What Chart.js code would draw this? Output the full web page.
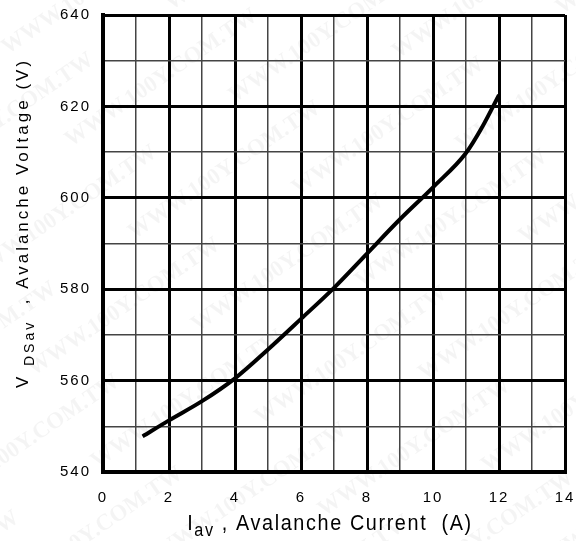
<!DOCTYPE html>
<html>
<head>
<meta charset="utf-8">
<script src="https://cdn.jsdelivr.net/npm/chart.js@4"></script>
<style>
  html, body { margin: 0; padding: 0; background: #fff; }
  #wrap { width: 576px; height: 541px; }
</style>
</head>
<body>
<div id="wrap"><canvas id="avChart" width="576" height="541"></canvas></div>
<script>
// avalanche current (A) vs avalanche voltage (V)
const currentA = [1.2, 2, 3, 4, 5, 6, 7, 8, 9, 10, 11, 11.5, 12];
const voltageV = [547.8, 551.3, 555.5, 560.5, 566.8, 573.5, 580.3, 587.8, 595.3, 602.3, 609.8, 615.6, 622.5];

const xTicks = [0, 2, 4, 6, 8, 10, 12, 14];
const yTicks = [540, 560, 580, 600, 620, 640];

const fontFam = '"Liberation Sans", Arial, sans-serif';

const watermark = {
  id: 'watermark',
  beforeDraw(chart) {
    const ctx = chart.ctx;
    ctx.save();
    ctx.font = 'bold 23px "Liberation Serif", serif';
    ctx.fillStyle = 'rgba(0,0,0,0.045)';
    ctx.translate(288, 270);
    ctx.rotate(-0.6);
    for (let r = -8; r <= 8; r++) {
      for (let c = -3; c <= 3; c++) {
        ctx.fillText('WWW.100Y.COM.TW', c * 320 + (r % 2) * 160 - 110, r * 56);
      }
    }
    ctx.restore();
    ctx.letterSpacing = '2px';
  }
};

function drawParts(ctx, parts, cx, cy, sx) {
  let w = 0;
  parts.forEach(p => { ctx.font = p[1]; w += ctx.measureText(p[0]).width; });
  ctx.save();
  ctx.translate(cx, cy);
  ctx.scale(sx, 1);
  let x = -w / 2;
  parts.forEach(p => {
    ctx.font = p[1];
    ctx.fillText(p[0], x, p[2]);
    x += ctx.measureText(p[0]).width;
  });
  ctx.restore();
}

const titles = {
  id: 'titles',
  afterDraw(chart) {
    const ctx = chart.ctx;
    ctx.save();
    ctx.fillStyle = '#000';
    ctx.textBaseline = 'alphabetic';
    ctx.textAlign = 'left';

    // x title
    ctx.letterSpacing = '1.8px';
    drawParts(ctx, [
      ['I', '22px ' + fontFam, 0],
      ['av', '18px ' + fontFam, 6],
      [' , Avalanche Current  (A)', '22px ' + fontFam, 0]
    ], 330, 530, 0.9);

    // y title
    ctx.letterSpacing = '3px';
    ctx.translate(28, 223);
    ctx.rotate(-Math.PI / 2);
    drawParts(ctx, [
      ['V ', '17px ' + fontFam, 0],
      ['DSav', '14px ' + fontFam, 6],
      ['  , Avalanche Voltage (V)', '17px ' + fontFam, 0]
    ], 0, 0, 1);
    ctx.restore();
  }
};

new Chart(document.getElementById('avChart'), {
  type: 'line',
  data: {
    datasets: [{
      data: currentA.map((c, i) => ({ x: c, y: voltageV[i] })),
      borderColor: '#000',
      borderWidth: 4,
      pointRadius: 0,
      cubicInterpolationMode: 'monotone',
      fill: false
    }]
  },
  options: {
    responsive: false,
    animation: false,
    layout: { padding: { top: 15, right: 11, left: 0, bottom: 0 } },
    plugins: { legend: { display: false }, tooltip: { enabled: false } },
    scales: {
      x: {
        type: 'linear',
        min: 0, max: 14,
        afterFit(s) { s.height = 69; s.paddingLeft = 0; s.paddingRight = 0; },
        ticks: {
          stepSize: 1,
          autoSkip: false,
          maxRotation: 0,
          padding: 17,
          color: '#000',
          font: { size: 15, family: fontFam },
          callback: v => xTicks.includes(v) ? String(v) : ''
        },
        grid: {
          drawTicks: false,
          color: c => (c.tick && c.tick.value % 2 === 0) ? '#000' : '#444',
          lineWidth: c => (c.tick && c.tick.value % 2 === 0) ? 3 : 1.5
        },
        border: { display: true, color: '#000', width: 4 }
      },
      y: {
        min: 540, max: 640,
        afterFit(s) { s.width = 103; s.paddingTop = 0; s.paddingBottom = 0; },
        ticks: {
          stepSize: 10,
          autoSkip: false,
          padding: 12,
          color: '#000',
          font: { size: 15, family: fontFam },
          callback: v => yTicks.includes(v) ? String(v) : ''
        },
        grid: {
          drawTicks: false,
          color: c => (c.tick && c.tick.value % 20 === 0) ? '#000' : '#444',
          lineWidth: c => (c.tick && c.tick.value % 20 === 0) ? 3 : 1.5
        },
        border: { display: true, color: '#000', width: 4 }
      }
    }
  },
  plugins: [watermark, titles]
});
</script>
</body>
</html>
